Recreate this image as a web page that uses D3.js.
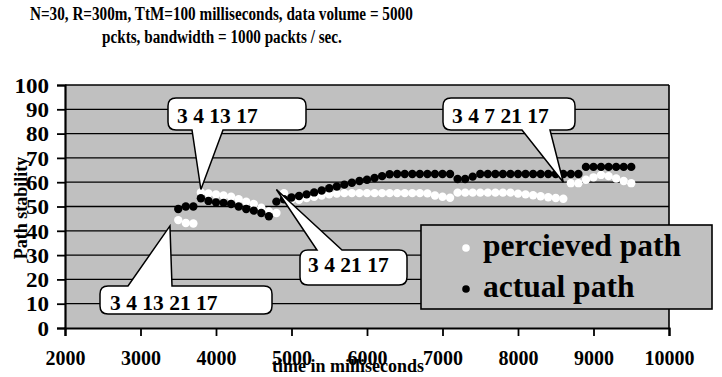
<!DOCTYPE html>
<html>
<head>
<meta charset="utf-8">
<script src="https://cdn.jsdelivr.net/npm/d3@7"></script>
<style>
  body { margin: 0; background: #fff; }
  svg { display: block; font-family: "Liberation Serif", "Times New Roman", serif; font-weight: bold; }
</style>
</head>
<body>
<div id="chart"></div>
<script>
// time stamps (ms)
const times = [3500, 3600, 3700, 3800, 3900, 4000, 4100, 4200, 4300, 4400,
    4500, 4600, 4700, 4800, 4900, 5000, 5100, 5200, 5300, 5400,
    5500, 5600, 5700, 5800, 5900, 6000, 6100, 6200, 6300, 6400,
    6500, 6600, 6700, 6800, 6900, 7000, 7100, 7200, 7300, 7400,
    7500, 7600, 7700, 7800, 7900, 8000, 8100, 8200, 8300, 8400,
    8500, 8600, 8700, 8800, 8900, 9000, 9100, 9200, 9300, 9400, 9500];

const perceived = [44.4, 43.2, 43, 55.8, 55.4, 55, 54.5, 54, 53, 52,
    51, 49.5, 48, 47.3, 55.5, 53, 52.8, 53.5, 54, 54.5,
    55, 55.3, 55.5, 55.5, 55.5, 55.5, 55.5, 55.5, 55.5, 55.5,
    55.5, 55.5, 55.5, 55.4, 54.5, 54, 53.6, 55.7, 55.7, 55.7,
    55.7, 55.7, 55.7, 55.7, 55.7, 55.3, 55, 54.6, 54.2, 53.8,
    53.5, 53.2, 59.6, 59.6, 61, 62, 63, 62.5, 61.5, 60.5, 59.6];

const actual = [49, 50, 50, 53.4, 52.3, 51.7, 51.5, 51, 50, 49,
    48.3, 47.3, 46, 52, 53, 53.7, 54.3, 55, 55.8, 56.6,
    57.5, 58.2, 59, 59.8, 60.5, 61, 61.7, 62.5, 63.3, 63.4,
    63.4, 63.4, 63.4, 63.4, 63.4, 63.4, 63.4, 61.3, 61.3, 62.3,
    63.4, 63.4, 63.4, 63.4, 63.4, 63.4, 63.4, 63.4, 63.4, 63.4,
    63.4, 63.4, 63.4, 63.4, 66.3, 66.3, 66.3, 66.3, 66.3, 66.3, 66.3];

const xTicks = [2000, 3000, 4000, 5000, 6000, 7000, 8000, 9000, 10000];
const yTicks = [0, 10, 20, 30, 40, 50, 60, 70, 80, 90, 100];

const seriesNames = ["percieved path", "actual path"];
const seriesColors = ["#ffffff", "#000000"];

// callout labels and the data point each one points at
const calloutText = ["3 4 13 17", "3 4 13 21 17", "3 4 21 17", "3 4 7 21 17"];
const calloutTip = [[3800, 57], [3390, 42], [4800, 57], [8600, 60]];

const titleLines = [
    "N=30, R=300m, TtM=100 milliseconds, data volume = 5000",
    "pckts, bandwidth = 1000 packts / sec.",
];

const width = 722, height = 377;
const plot = { left: 65, right: 669, top: 85, bottom: 328 };

const svg = d3.select("#chart").append("svg")
    .attr("width", width)
    .attr("height", height);

const x = d3.scaleLinear().domain([2000, 10000]).range([plot.left, plot.right]);
const y = d3.scaleLinear().domain([0, 100]).range([plot.bottom, plot.top]);

// title (the original glyphs are tall and narrow)
svg.append("text")
    .attr("transform", "translate(30,19.5) scale(0.8,1)")
    .style("font-size", "19px")
    .text(titleLines[0]);
svg.append("text")
    .attr("transform", "translate(102,42.5) scale(0.8,1)")
    .style("font-size", "19px")
    .text(titleLines[1]);

// plot background
svg.append("rect")
    .attr("x", plot.left).attr("y", plot.top)
    .attr("width", plot.right - plot.left)
    .attr("height", plot.bottom - plot.top)
    .attr("fill", "#c0c0c0");

// gridlines
svg.append("g")
    .selectAll("line")
    .data(yTicks.filter((d) => d > 0))
    .join("line")
    .attr("x1", plot.left).attr("x2", plot.right)
    .attr("y1", (d) => y(d)).attr("y2", (d) => y(d))
    .attr("stroke", "#000")
    .attr("stroke-width", 1.3);

// frame on the right
svg.append("line")
    .attr("x1", plot.right).attr("x2", plot.right)
    .attr("y1", plot.top).attr("y2", plot.bottom)
    .attr("stroke", "#000").attr("stroke-width", 1.6);

// axes
const yAxis = svg.append("g")
    .attr("transform", `translate(${plot.left},0)`)
    .call(d3.axisLeft(y).tickValues(yTicks).tickSize(8).tickPadding(7));
const xAxis = svg.append("g")
    .attr("transform", `translate(0,${plot.bottom})`)
    .call(d3.axisBottom(x).tickValues(xTicks).tickSize(8).tickPadding(15).tickFormat(d3.format("d")));

[yAxis, xAxis].forEach((g) => {
    g.select(".domain").attr("stroke", "#000").attr("stroke-width", 2.2);
    g.selectAll(".tick line").attr("stroke", "#000").attr("stroke-width", 1.8);
    g.selectAll("text")
        .attr("fill", "#000")
        .style("font-family", "Liberation Serif, serif")
        .style("font-weight", "bold")
        .style("font-size", "20px");
});
yAxis.selectAll("text").attr("dy", "0.36em").attr("transform", "scale(1.15,1)").attr("x", -14);

// series
const series = [perceived, actual];
series.forEach((values, i) => {
    svg.append("g")
        .selectAll("circle")
        .data(values)
        .join("circle")
        .attr("cx", (d, j) => x(times[j]))
        .attr("cy", (d) => y(d))
        .attr("r", 4.2)
        .attr("fill", seriesColors[i]);
});

// axis titles
svg.append("text")
    .attr("x", 348).attr("y", 372)
    .attr("text-anchor", "middle")
    .style("font-size", "18px")
    .text("time in milliseconds");
svg.append("text")
    .attr("transform", "translate(27,208) rotate(-90)")
    .attr("text-anchor", "middle")
    .style("font-size", "18px")
    .text("Path stability");

// callouts: rounded box with a wedge towards the tip
function calloutPath(b, tip) {
    const r = 8;
    const [x0, y0, x1, y1] = b.box;
    const [w0, w1] = b.wedge;
    const [tx, ty] = tip;
    if (b.side === "bottom") {
        return `M${x0 + r},${y0} H${x1 - r} Q${x1},${y0} ${x1},${y0 + r} V${y1 - r} Q${x1},${y1} ${x1 - r},${y1}` +
            ` H${w1} L${tx},${ty} L${w0},${y1} H${x0 + r} Q${x0},${y1} ${x0},${y1 - r} V${y0 + r} Q${x0},${y0} ${x0 + r},${y0} Z`;
    }
    return `M${x0 + r},${y0} H${w0} L${tx},${ty} L${w1},${y0} H${x1 - r} Q${x1},${y0} ${x1},${y0 + r} V${y1 - r}` +
        ` Q${x1},${y1} ${x1 - r},${y1} H${x0 + r} Q${x0},${y1} ${x0},${y1 - r} V${y0 + r} Q${x0},${y0} ${x0 + r},${y0} Z`;
}

const calloutBoxes = [
    { box: [168, 98, 306, 130], side: "bottom", wedge: [192, 223], tx: 177, ty: 123 },
    { box: [100, 286, 272, 314], side: "top", wedge: [128, 172], tx: 110, ty: 310 },
    { box: [300, 250, 407, 285], side: "top", wedge: [317, 342], tx: 308, ty: 272 },
    { box: [443, 98, 575, 130], side: "bottom", wedge: [522, 550], tx: 452, ty: 123 },
];

calloutText.forEach((label, i) => {
    const b = calloutBoxes[i];
    const tip = [x(calloutTip[i][0]), y(calloutTip[i][1])];
    svg.append("path")
        .attr("d", calloutPath(b, tip))
        .attr("fill", "#fff")
        .attr("stroke", "#000")
        .attr("stroke-width", 1.5);
    svg.append("text")
        .attr("x", b.tx)
        .attr("y", b.ty)
        .style("font-size", "21.5px")
        .text(label);
});

// legend
const legend = svg.append("g");
legend.append("rect")
    .attr("x", 421).attr("y", 225)
    .attr("width", 291).attr("height", 84)
    .attr("fill", "#c0c0c0")
    .attr("stroke", "#000")
    .attr("stroke-width", 1.6);
seriesNames.forEach((name, i) => {
    legend.append("circle")
        .attr("cx", 466).attr("cy", 248 + i * 41)
        .attr("r", 3.8)
        .attr("fill", seriesColors[i]);
    legend.append("text")
        .attr("x", 483).attr("y", 256 + i * 41)
        .style("font-size", "31.5px")
        .text(name);
});
</script>
</body>
</html>
